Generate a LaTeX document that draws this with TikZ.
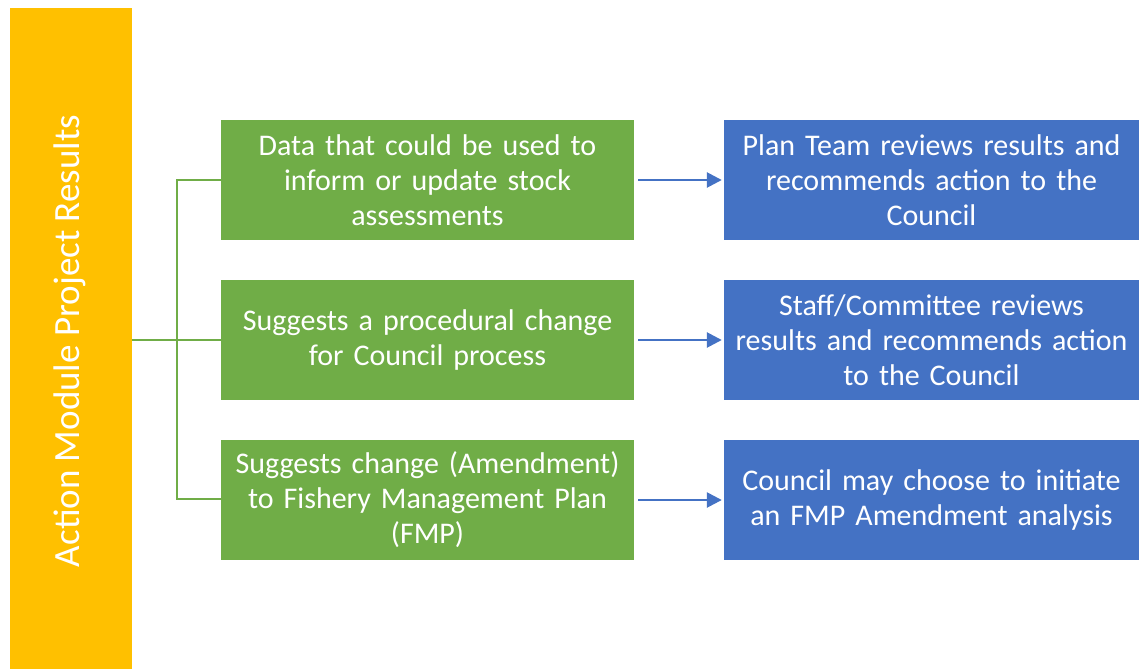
\documentclass[tikz,border=0pt]{standalone}
\usepackage{fontspec}
\setmainfont{Carlito}
\usetikzlibrary{arrows.meta}
\definecolor{orangeC}{HTML}{FFC000}
\definecolor{greenC}{HTML}{70AD47}
\definecolor{blueC}{HTML}{4472C4}
\begin{document}
\begin{tikzpicture}[x=1pt,y=-1pt,
  gbox/.style={fill=greenC,draw=none,minimum width=413pt,minimum height=120pt,text width=412pt,align=center,text=white,font=\fontsize{30}{35}\selectfont,inner sep=0pt},
  bbox/.style={fill=blueC,draw=none,minimum width=415pt,minimum height=120pt,text width=414pt,align=center,text=white,font=\fontsize{30}{35}\selectfont,inner sep=0pt},
  gline/.style={draw=greenC,line width=2.6pt},
  barrow/.style={draw=blueC,line width=2.6pt,-{Triangle[length=15pt,width=15pt]}}]
\useasboundingbox (0,0) rectangle (1139,669);
\fill[white] (0,0) rectangle (1139,669);
\node[fill=orangeC,minimum width=122pt,minimum height=661pt,inner sep=0pt,anchor=north west] (bar) at (10,8) {};
\node[rotate=90,text=white,font=\fontsize{37}{44}\selectfont] (bartext) at (70,341) {Action Module Project Results};
\node[gbox] (g1) at (427.5,180) {Data that could be used to\\inform or update stock\\assessments};
\node[gbox] (g2) at (427.5,340) {Suggests a procedural change\\for Council process};
\node[gbox] (g3) at (427.5,500) {Suggests change (Amendment)\\to Fishery Management Plan\\(FMP)};
\node[bbox] (b1) at (931.5,180) {Plan Team reviews results and\\recommends action to the\\Council};
\node[bbox] (b2) at (931.5,340) {Staff/Committee reviews\\results and recommends action\\to the Council};
\node[bbox] (b3) at (931.5,500) {Council may choose to initiate\\an FMP Amendment analysis};
\coordinate (jt) at (177,180);
\coordinate (jb) at (177,499);
\draw[gline] (bar.east |- g2.west) -- (g2.west);
\draw[gline] (g1.west) -- (jt) -- (jb) -- (g3.west |- jb);
\draw[barrow] ([xshift=4pt]g1.east) -- ([xshift=-2pt]b1.west);
\draw[barrow] ([xshift=4pt]g2.east) -- ([xshift=-2pt]b2.west);
\draw[barrow] ([xshift=4pt]g3.east) -- ([xshift=-2pt]b3.west);
\end{tikzpicture}
\end{document}
